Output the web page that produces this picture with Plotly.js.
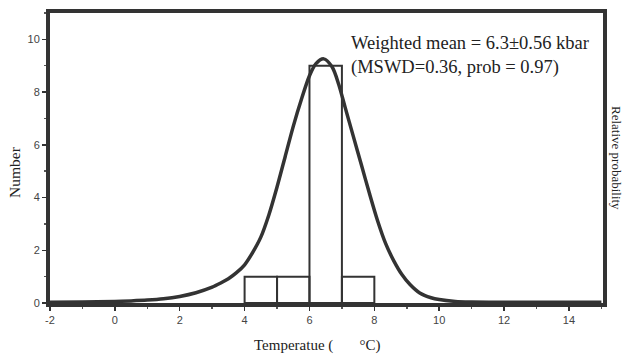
<!DOCTYPE html>
<html>
<head>
<meta charset="utf-8">
<script src="https://cdn.plot.ly/plotly-3.0.1.min.js"></script>
<style>html,body{margin:0;padding:0;background:#fff;}#chart{width:626px;height:359px;}</style>
</head>
<body>
<div id="chart"></div>
<script>
// Histogram bins (left edges, width 1 °C) and counts
var binStart = [4, 5, 6, 7];
var binCount = [1, 1, 9, 1];
// Relative probability curve
var curveX = [-2, -1, 0, 0.5, 1, 1.5, 2, 2.5, 3, 3.25, 3.5, 3.75, 4, 4.25, 4.5, 4.75, 5, 5.25, 5.5, 5.75, 6, 6.2, 6.44, 6.7, 6.9, 7.1, 7.35, 7.6, 7.85, 8.1, 8.35, 8.6, 8.85, 9.1, 9.4, 9.75, 10, 10.5, 11, 12, 13, 14, 15];
var curveY = [0.03, 0.04, 0.06, 0.08, 0.11, 0.16, 0.25, 0.39, 0.6, 0.75, 0.92, 1.15, 1.45, 1.92, 2.5, 3.35, 4.4, 5.55, 6.7, 7.72, 8.62, 9.08, 9.26, 8.95, 8.3, 7.42, 6.33, 5.24, 4.15, 3.12, 2.25, 1.6, 1.08, 0.7, 0.38, 0.2, 0.13, 0.06, 0.04, 0.03, 0.03, 0.03, 0.03];
var xTicks = [-2, 0, 2, 4, 6, 8, 10, 12, 14];
var yTicks = [0, 2, 4, 6, 8, 10];
var noteLines = ["Weighted mean = 6.3±0.56 kbar", "(MSWD=0.36, prob = 0.97)"];
var xTitle = "Temperatue (\u00a0\u00a0\u00a0\u00a0\u00a0\u00a0\u00a0°C)";
var yTitle = "Number";
var y2Title = "Relative probability";

var binCenter = binStart.map(function (s) { return s + 0.5; });

var traces = [
  {
    type: 'bar', x: binCenter, y: binCount, width: 1,
    marker: {color: 'rgba(255,255,255,0)', line: {color: '#333', width: 2}},
    hoverinfo: 'skip', showlegend: false
  },
  {
    type: 'scatter', mode: 'lines', x: curveX, y: curveY,
    line: {color: '#333', width: 3.5, shape: 'spline', smoothing: 0.8},
    hoverinfo: 'skip', showlegend: false
  }
];

var tickFont = {family: 'Liberation Sans, Arial, sans-serif', size: 11, color: '#444'};
var serif = 'Liberation Serif, Times New Roman, serif';

var layout = {
  width: 626, height: 359,
  margin: {l: 50, r: 23, t: 13, b: 56},
  paper_bgcolor: '#fff', plot_bgcolor: '#fff',
  bargap: 0,
  xaxis: {
    range: [-2, 15.05], tickvals: xTicks, ticktext: xTicks.map(String),
    showgrid: false, zeroline: false,
    showline: true, mirror: true, linecolor: '#333', linewidth: 4,
    ticks: 'outside', ticklen: 4, tickwidth: 1.5, tickcolor: '#333',
    minor: {dtick: 1, tick0: -2, ticks: 'outside', ticklen: 2, tickcolor: '#555', showgrid: false},
    tickfont: tickFont
  },
  yaxis: {
    range: [0, 11], tickvals: yTicks, ticktext: yTicks.map(String),
    showgrid: false, zeroline: false,
    showline: true, mirror: true, linecolor: '#333', linewidth: 4,
    ticks: 'outside', ticklen: 4, tickwidth: 1.5, tickcolor: '#333',
    minor: {dtick: 1, ticks: 'outside', ticklen: 2, tickcolor: '#555', showgrid: false},
    tickfont: tickFont
  },
  annotations: [
    {
      xref: 'paper', yref: 'paper', x: 0.541, y: 0.938, xanchor: 'left', yanchor: 'top',
      text: noteLines.join('<br>'), align: 'left', showarrow: false,
      font: {family: serif, size: 18.5, color: '#222'}
    },
    {
      xref: 'paper', yref: 'paper', x: 1.0, xshift: 14, y: 0.5,
      xanchor: 'center', yanchor: 'middle', textangle: 90,
      text: y2Title, showarrow: false,
      font: {family: serif, size: 13, color: '#222'}
    },
    {
      xref: 'paper', yref: 'paper', x: -0.0633, y: 0.452,
      xanchor: 'center', yanchor: 'middle', textangle: -90,
      text: yTitle, showarrow: false,
      font: {family: serif, size: 15.5, color: '#222'}
    },
    {
      xref: 'paper', yref: 'paper', x: 0.483, y: -0.145,
      xanchor: 'center', yanchor: 'middle',
      text: xTitle, showarrow: false,
      font: {family: serif, size: 15, color: '#222'}
    }
  ]
};

Plotly.newPlot('chart', traces, layout, {displayModeBar: false, staticPlot: true});
</script>
</body>
</html>
